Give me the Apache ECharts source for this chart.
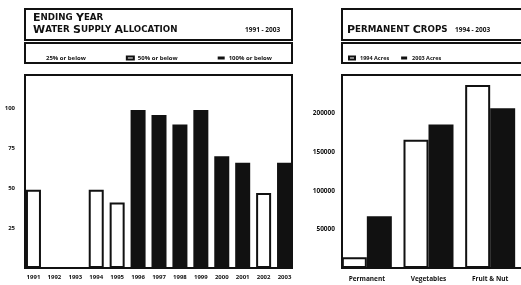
<!DOCTYPE html>
<html>
<head>
<meta charset="utf-8">
<script src="https://cdn.jsdelivr.net/npm/echarts@6/dist/echarts.min.js"></script>
<style>
  html, body { margin: 0; padding: 0; background: #fff; }
  #chart { width: 521px; height: 285px; }
</style>
</head>
<body>
<div id="chart"></div>
<script>
// left panel: ending year water supply allocation (%)
const years = ['1991', '1992', '1993', '1994', '1995', '1996', '1997', '1998', '1999', '2000', '2001', '2002', '2003']
const below25 = [null, 0, 0, null, null, null, null, null, null, null, null, null, null]
const below50 = [49, null, null, 49, 41, null, null, null, null, null, null, 47, null]
const below100 = [null, null, null, null, null, 99, 96, 90, 99, 70, 66, null, 66]
const allocTicks = [25, 50, 75, 100]

// right panel: permanent crops (acres)
const crops = ['Permanent', 'Vegetables', 'Fruit & Nut']
const acres1994 = [14000, 166000, 237000]
const acres2003 = [67000, 186000, 207000]
const acreTicks = [50000, 100000, 150000, 200000]

const ink = '#111'
const font = '"Open Sans", "DejaVu Sans", sans-serif'
const titleFont = '"DejaVu Sans", sans-serif'

// "Ending Year" -> rich text in small caps
const smallCaps = (str) =>
  str.split(' ').map(w => `{a|${w[0].toUpperCase()}}{b|${w.slice(1).toUpperCase()}}`).join(' ')

const capsRich = {
  a: { fontSize: 11, fontWeight: 'bold', fontFamily: titleFont, fill: ink },
  b: { fontSize: 8.7, fontWeight: 'bold', fontFamily: titleFont, fill: ink },
}

const frame = (x, y, width, height) => ({
  type: 'rect',
  z: 10,
  shape: { x, y, width, height },
  style: { fill: 'none', stroke: ink, lineWidth: 2 },
})

const label = (x, y, text, fontSize) => ({
  type: 'text',
  z: 10,
  x, y,
  style: { text, fontSize, fontWeight: 'bold', fontFamily: font, fill: ink, verticalAlign: 'middle' },
})

const chart = echarts.init(document.getElementById('chart'))

chart.setOption({
  backgroundColor: '#fff',
  animation: false,
  graphic: [
    frame(25, 9, 267, 31),
    frame(25, 43, 267, 20),
    frame(25, 75, 267, 193),
    frame(342, 9, 200, 31),
    frame(342, 43, 200, 20),
    frame(342, 75, 200, 193),
    { type: 'text', z: 10, x: 33, y: 12, style: { text: smallCaps('Ending Year'), rich: capsRich } },
    { type: 'text', z: 10, x: 33, y: 24, style: { text: smallCaps('Water Supply Allocation'), rich: capsRich } },
    label(245, 30, '1991 - 2003', 6.5),
    { type: 'text', z: 10, x: 347, y: 24, style: { text: smallCaps('Permanent Crops'), rich: capsRich } },
    label(455, 30, '1994 - 2003', 6.5),
  ],
  legend: [
    {
      left: 30, top: 50,
      data: ['25% or below', '50% or below', '100% or below'],
      icon: 'rect', itemWidth: 7, itemHeight: 3, itemGap: 40,
      textStyle: { fontSize: 6, fontWeight: 'bold', fontFamily: font, color: ink, padding: [0, 0, 0, -1] },
    },
    {
      left: 343, top: 50,
      data: ['1994 Acres', '2003 Acres'],
      icon: 'rect', itemWidth: 6, itemHeight: 3, itemGap: 12,
      textStyle: { fontSize: 5.5, fontWeight: 'bold', fontFamily: font, color: ink },
    },
  ],
  grid: [
    { left: 23, top: 75, width: 272, height: 193 },
    { left: 336, top: 75, width: 198, height: 193 },
  ],
  xAxis: [
    {
      type: 'category', gridIndex: 0, data: years,
      axisLine: { show: false }, axisTick: { show: false },
      axisLabel: { margin: 6, fontSize: 6, fontWeight: 'bold', fontFamily: font, color: ink, interval: 0 },
    },
    {
      type: 'category', gridIndex: 1, data: crops,
      axisLine: { show: false }, axisTick: { show: false },
      axisLabel: { margin: 8, fontSize: 6.5, fontWeight: 'bold', fontFamily: font, color: ink, interval: 0 },
    },
  ],
  yAxis: [
    {
      type: 'value', gridIndex: 0, min: 0, max: 121, interval: 25,
      splitLine: { show: false }, axisLine: { show: false }, axisTick: { show: false },
      axisLabel: {
        margin: 8, fontSize: 6, fontWeight: 'bold', fontFamily: font, color: ink,
        formatter: v => (allocTicks.includes(v) ? String(v) : ''),
      },
    },
    {
      type: 'value', gridIndex: 1, min: 0, max: 250000, interval: 50000,
      splitLine: { show: false }, axisLine: { show: false }, axisTick: { show: false },
      axisLabel: {
        margin: 1, fontSize: 6.5, fontWeight: 'bold', fontFamily: font, color: ink,
        formatter: v => (acreTicks.includes(v) ? String(v) : ''),
      },
    },
  ],
  series: [
    {
      name: '25% or below', type: 'bar', xAxisIndex: 0, yAxisIndex: 0, stack: 'alloc',
      barWidth: 15, data: below25,
      itemStyle: { color: '#fff' },
    },
    {
      name: '50% or below', type: 'bar', xAxisIndex: 0, yAxisIndex: 0, stack: 'alloc',
      barWidth: 15, data: below50,
      itemStyle: { color: '#fff', borderColor: ink, borderWidth: 2 },
    },
    {
      name: '100% or below', type: 'bar', xAxisIndex: 0, yAxisIndex: 0, stack: 'alloc',
      barWidth: 15, data: below100,
      itemStyle: { color: ink },
    },
    {
      name: '1994 Acres', type: 'bar', xAxisIndex: 1, yAxisIndex: 1,
      barWidth: 25, barGap: '0%', data: acres1994,
      itemStyle: { color: '#fff', borderColor: ink, borderWidth: 2 },
    },
    {
      name: '2003 Acres', type: 'bar', xAxisIndex: 1, yAxisIndex: 1,
      barWidth: 25, barGap: '0%', data: acres2003,
      itemStyle: { color: ink },
    },
  ],
})
</script>
</body>
</html>
